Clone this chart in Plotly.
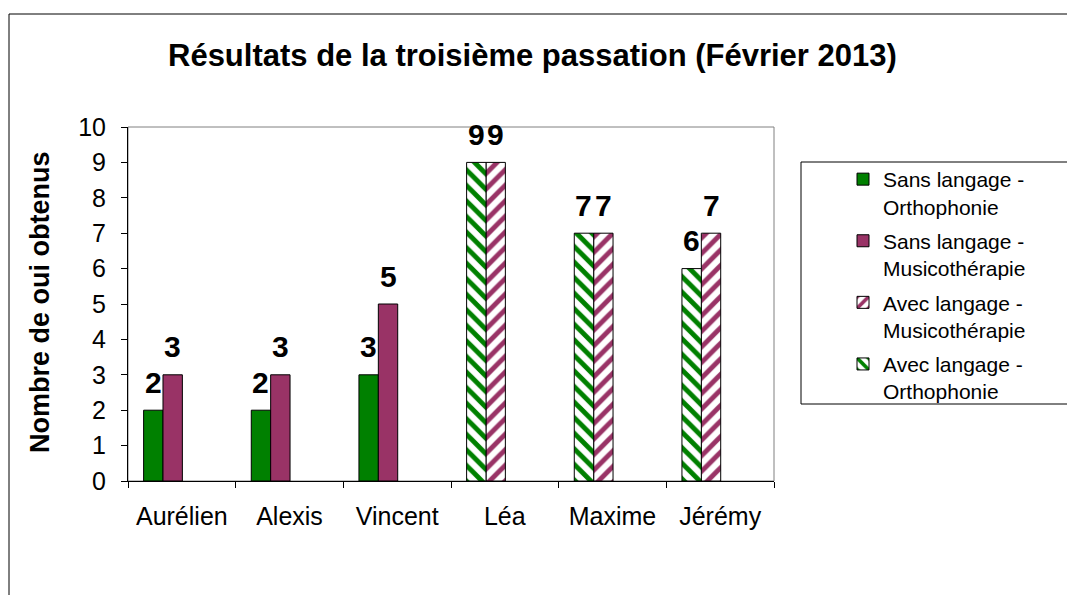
import plotly.graph_objects as go

# ---- data ----
categories = ["Aurélien", "Alexis", "Vincent", "Léa", "Maxime", "Jérémy"]
sans_cats = ["Aurélien", "Alexis", "Vincent"]
avec_cats = ["Léa", "Maxime", "Jérémy"]
sans_ortho = [2, 2, 3]
sans_music = [3, 3, 5]
avec_music = [9, 7, 7]
avec_ortho = [9, 7, 6]
series_names = ["Sans langage -<br>Orthophonie", "Sans langage -<br>Musicothérapie",
                "Avec langage -<br>Musicothérapie", "Avec langage -<br>Orthophonie"]
y_ticks = list(range(0, 11))
title_text = "Résultats de la troisième passation (Février 2013)"
y_title = "Nombre de oui obtenus"

# ---- style ----
FONT = "Liberation Sans, Arial, sans-serif"
GREEN = "#008000"
PURPLE = "#993366"
W = 0.18
OFF_O = -0.355
OFF_M = -0.175
OFS = 8  # page body margin
W_PX, H_PX = 1075, 595
# plot area in screen px: x 128..774, y 127..481
L, T = 128 - OFS, 127 - OFS
pw, ph = 646, 354
R = W_PX - L - pw
B = H_PX - T - ph

def px_x(p):
    return (p - OFS - L) / pw

def px_y(p):
    return (T + ph - (p - OFS)) / ph

line = dict(color="black", width=1)
fig = go.Figure()
fig.add_trace(go.Bar(x=sans_cats, y=sans_ortho, name=series_names[0], offset=OFF_O, width=W,
                     legendgroup="a", marker=dict(color=GREEN, line=line)))
fig.add_trace(go.Bar(x=sans_cats, y=sans_music, name=series_names[1], offset=OFF_M, width=W,
                     legendgroup="b", marker=dict(color=PURPLE, line=line)))
fig.add_trace(go.Bar(x=avec_cats, y=avec_music, name=series_names[2], offset=OFF_M, width=W,
                     legendgroup="c",
                     marker=dict(color="white", line=line,
                                 pattern=dict(shape="/", fgcolor=PURPLE, bgcolor="white",
                                              fgopacity=1, size=11, solidity=0.45))))
fig.add_trace(go.Bar(x=avec_cats, y=avec_ortho, name=series_names[3], offset=OFF_O, width=W,
                     legendgroup="d",
                     marker=dict(color="white", line=line,
                                 pattern=dict(shape="\\", fgcolor=GREEN, bgcolor="white",
                                              fgopacity=1, size=11, solidity=0.45))))

annotations = []
def add_labels(cats, vals, off):
    for c, v in zip(cats, vals):
        i = categories.index(c)
        annotations.append(dict(x=i + off + W / 2, y=v, xref="x", yref="y", text=str(v),
                                showarrow=False, yshift=28, xanchor="center", yanchor="middle",
                                font=dict(family=FONT, size=30, color="black", weight="bold")))
add_labels(sans_cats, sans_ortho, OFF_O)
add_labels(sans_cats, sans_music, OFF_M)
add_labels(avec_cats, avec_music, OFF_M)
add_labels(avec_cats, avec_ortho, OFF_O)

annotations.append(dict(x=px_x(40), y=px_y(302), xref="paper", yref="paper", text=y_title,
                        textangle=-90, showarrow=False, xanchor="center", yanchor="middle",
                        font=dict(family=FONT, size=27, color="black", weight="bold")))
annotations.append(dict(x=px_x(532), y=px_y(55), xref="paper", yref="paper", text=title_text,
                        showarrow=False, xanchor="center", yanchor="middle",
                        font=dict(family=FONT, size=31, color="black", weight="bold")))

shapes = [
    # outer chart border
    dict(type="rect", xref="paper", yref="paper", x0=px_x(9), x1=px_x(1100), y0=px_y(620), y1=px_y(14),
         line=dict(color="black", width=1), layer="below"),
    # plot area border
    dict(type="rect", xref="paper", yref="paper", x0=0, x1=1, y0=0, y1=1,
         line=dict(color="#808080", width=1), layer="below"),
    # legend box
    dict(type="rect", xref="paper", yref="paper", x0=px_x(801), x1=px_x(1072), y0=px_y(404), y1=px_y(162),
         line=dict(color="black", width=1), layer="below"),
]

fig.update_layout(
    width=W_PX, height=H_PX,
    margin=dict(l=L, r=R, t=T, b=B, autoexpand=False),
    paper_bgcolor="white", plot_bgcolor="white",
    barmode="overlay",
    showlegend=True,
    legend=dict(x=px_x(843), y=px_y(159), xanchor="left", yanchor="top",
                font=dict(family=FONT, size=21, color="black"), valign="top",
                bgcolor="rgba(0,0,0,0)", borderwidth=0, tracegroupgap=4,
                traceorder="grouped"),
    annotations=annotations, shapes=shapes,
    font=dict(family=FONT, color="black"),
)
fig.update_xaxes(type="category", categoryorder="array", categoryarray=categories,
                 range=[-0.5, len(categories) - 0.5], tickson="boundaries", ticks="outside",
                 ticklen=6, tickcolor="black", showline=True, linecolor="black", linewidth=1,
                 showgrid=False, tickfont=dict(family=FONT, size=25, color="black"),
                 ticklabelstandoff=13)
fig.update_yaxes(range=[0, 10], tickvals=y_ticks, ticks="outside", ticklen=6, tickcolor="black",
                 showline=True, linecolor="black", linewidth=1, showgrid=False, zeroline=False,
                 tickfont=dict(family=FONT, size=25, color="black"), ticklabelstandoff=10)

fig.write_html("out.html")
